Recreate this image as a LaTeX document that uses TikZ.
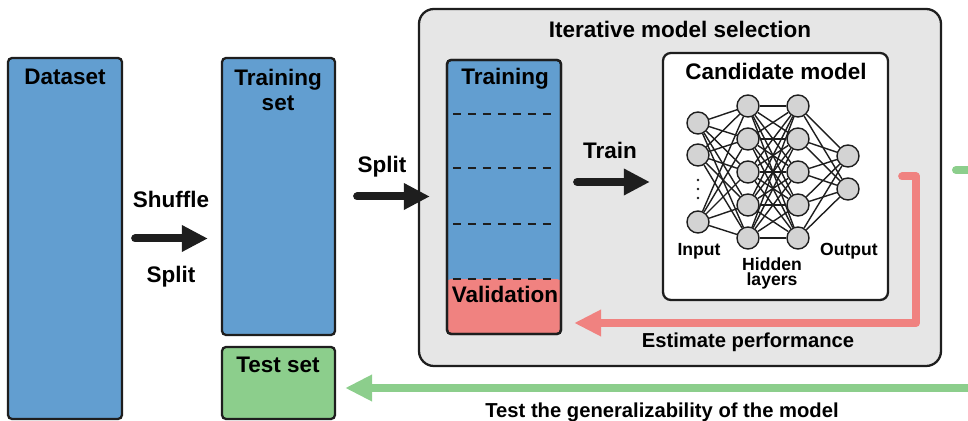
\documentclass[tikz,border=0pt]{standalone}
\usepackage{fontspec}
\setmainfont{Liberation Sans}
\usepackage{tikz}
\usetikzlibrary{arrows.meta,fit}

\definecolor{setblue}{RGB}{98,158,208}
\definecolor{valred}{RGB}{240,130,128}
\definecolor{testgreen}{RGB}{140,206,140}
\definecolor{panelgray}{RGB}{230,230,230}
\definecolor{nodegray}{RGB}{211,211,211}
\definecolor{edge}{RGB}{30,30,30}

\begin{document}
\begin{tikzpicture}[x=0.02cm,y=-0.02cm,
  box/.style={draw=edge,line width=1.3pt,rounded corners=2.3pt,inner sep=0pt},
  lbl/.style={font=\fontsize{12.8}{14.2}\selectfont\bfseries,align=center,inner sep=0pt},
  note/.style={font=\fontsize{11.5}{13}\selectfont\bfseries,inner sep=0pt},
  small/.style={font=\fontsize{10}{11}\selectfont\bfseries,inner sep=0pt},
  neuron/.style={circle,draw=edge,line width=0.8pt,fill=nodegray,minimum size=0.44cm,inner sep=0pt},
  syn/.style={edge,line width=0.8pt},
  bigarrow/.style={edge,line width=0.16cm,line cap=round,-{Triangle[length=0.52cm,width=0.5cm]}},
  redarrow/.style={valred,line width=0.16cm,line cap=round,line join=round,-{Triangle[length=0.54cm,width=0.5cm]}},
  greenarrow/.style={testgreen,line width=0.16cm,line cap=round,line join=round,-{Triangle[length=0.54cm,width=0.5cm]}},
  dashline/.style={edge,line width=1.4pt,dash pattern=on 0.16cm off 0.14cm}]

\useasboundingbox (0,0) rectangle (968,421);
\clip (0,0) rectangle (968,421);

% data sets
\node[box,fill=setblue,fit={(8,58) (122,419)}] (dataset) {};
\node[box,fill=setblue,fit={(222,58) (335,335)}] (trainset) {};
\node[box,fill=testgreen,fit={(222,347) (335,419)}] (testset) {};
\node[lbl,anchor=base] (datasetlbl) at (65,85) {Dataset};
\node[lbl,anchor=north] (trainsetlbl) at (278,69) {Training\\set};
\node[lbl,anchor=base] (testsetlbl) at (278,373) {Test set};

% iterative model selection
\node[box,fill=panelgray,rounded corners=8.5pt,fit={(419,9) (941,366)}] (iter) {};
\node[lbl,anchor=base] (iterlbl) at (680,38) {Iterative model selection};
\node[box,fill=setblue,fit={(447,60) (561,334)},
  path picture={\fill[valred] (path picture bounding box.south west) rectangle
    ([yshift=1.1cm]path picture bounding box.south east);}] (cv) {};
\foreach \y in {114,168,224,279}
  \draw[dashline] (453,\y) -- (556,\y);
\node[box,fill=none,fit={(447,60) (561,334)}] (cvframe) {};
\node[lbl,anchor=base] (cvtrain) at (505,85) {Training};
\node[lbl,anchor=base] (cvval) at (505,303) {Validation};

\node[box,fill=white,rounded corners=4.5pt,fit={(663,53) (888,300)}] (candidate) {};
\node[lbl,anchor=base] (candlbl) at (776,80) {Candidate model};

% network
\foreach \i/\y in {1/123,2/155,3/222}
  \node[neuron] (in\i) at (698,\y) {};
\foreach \i in {1,...,5} {
  \node[neuron] (ha\i) at (748,{106+33*(\i-1)}) {};
  \node[neuron] (hb\i) at (798,{106+33*(\i-1)}) {};
}
\foreach \i/\y in {1/156,2/189}
  \node[neuron] (out\i) at (848,\y) {};
\foreach \i in {1,2,3}
  \foreach \j in {1,...,5}
    \draw[syn] (in\i) -- (ha\j);
\foreach \i in {1,...,5}
  \foreach \j in {1,...,5}
    \draw[syn] (ha\i) -- (hb\j);
\foreach \i in {1,...,5}
  \foreach \j in {1,2}
    \draw[syn] (hb\i) -- (out\j);
\foreach \y in {180,189,198}
  \fill[edge] (698,\y) circle (1.3);
\node[small,anchor=base] (inlbl) at (699,256) {Input};
\node[small,anchor=base] (outlbl) at (849,256) {Output};
\node[small,anchor=base] (hidlbl) at (772,271) {Hidden};
\node[small,anchor=base] (laylbl) at (772,286) {layers};

% arrows
\draw[bigarrow,shorten <=0.24cm,shorten >=0.26cm] (dataset.east) -- (dataset.east -| trainset.west);
\node[lbl,anchor=base] (shufflelbl) at (171,208) {Shuffle};
\node[lbl,anchor=base] (splitlbl) at (171,283) {Split};

\draw[bigarrow,shorten <=0.42cm,shorten >=0.32cm] (trainset.east) -- (trainset.east -| cv.west);
\node[lbl,anchor=base] (splitlbl2) at (382,173) {Split};

\coordinate (trainy) at ([yshift=-0.11cm]candidate.west);
\draw[bigarrow,shorten <=0.3cm,shorten >=0.24cm] (trainy -| cv.east) -- (trainy);
\node[lbl,anchor=base] (trainlbl) at (610,159) {Train};

\coordinate (perfcorner) at (916,323);
\draw[redarrow,shorten >=0.24cm] ([xshift=0.26cm]candidate.east) -- (candidate.east -| perfcorner)
  -- (perfcorner) -- (perfcorner -| cv.east);
\node[note,anchor=base] (perflbl) at (748,348) {Estimate performance};

\coordinate (gstart) at (956,170);
\coordinate (gtop) at (990,170);
\coordinate (gbot) at (990,388);
\draw[greenarrow,shorten >=0.18cm] (gstart) -- (gtop) -- (gbot) -- (gbot -| testset.east);
\node[note,anchor=base] (testlbl) at (662,418) {Test the generalizability of the model};

\end{tikzpicture}
\end{document}
